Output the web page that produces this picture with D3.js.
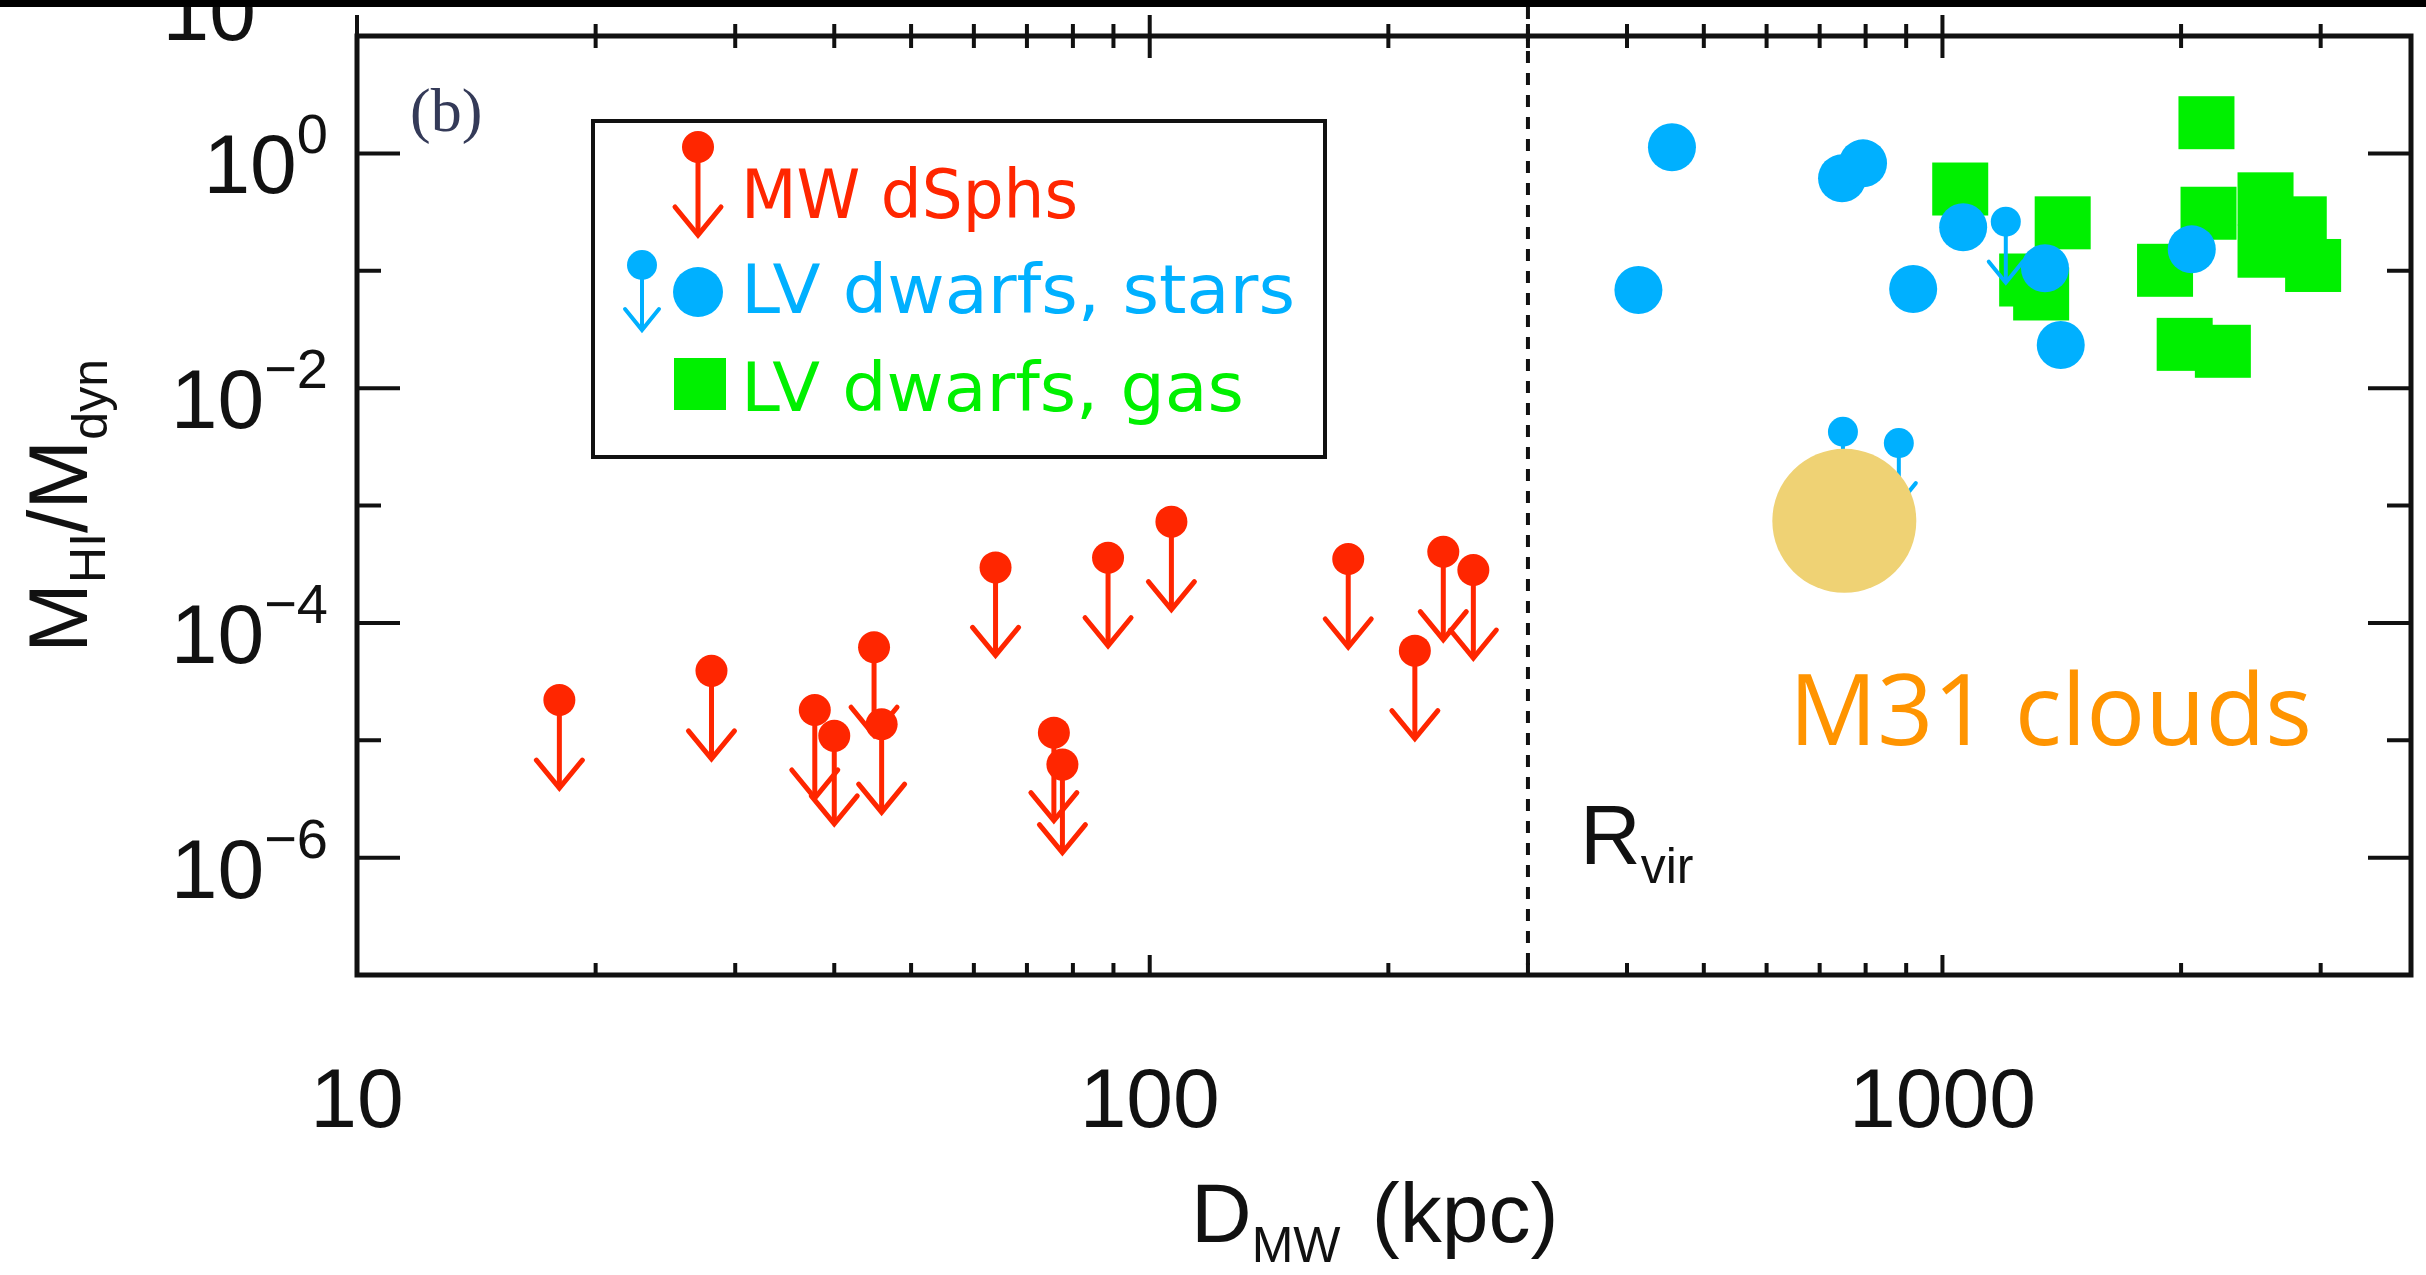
<!DOCTYPE html>
<html>
<head>
<meta charset="utf-8">
<script src="https://cdn.jsdelivr.net/npm/d3@7"></script>
<style>
  html, body { margin: 0; padding: 0; background: #fff; overflow: hidden; }
  svg { display: block; }
</style>
</head>
<body>
<svg id="chart"></svg>
<script>
// ---- data -------------------------------------------------------------
// Milky Way dwarf spheroidals: upper limits on M_HI / M_dyn
const mwDist  = [18, 28, 37.8, 40, 44.9, 45.9, 63.9, 75.7, 77.6, 88.6, 106.5, 178, 216, 234.6, 256];
const mwRatio = [2.2e-5, 3.9e-5, 1.81e-5, 1.09e-5, 6.2e-5, 1.37e-5, 2.97e-4, 1.16e-5, 6.2e-6,
                 3.59e-4, 7.28e-4, 3.5e-4, 5.8e-5, 4.04e-4, 2.82e-4];

// Local Volume dwarfs, stellar-kinematic masses (detections)
const lvStarDist  = [455.8, 413.5, 747, 794, 918.5, 1062, 1347, 1410, 2063];
const lvStarRatio = [1.127, 0.0686, 0.613, 0.823, 0.0699, 0.2346, 0.105, 0.0233, 0.1523];

// Local Volume dwarfs, stellar-kinematic masses (upper limits)
const lvLimDist  = [1202, 749, 881];
const lvLimRatio = [0.262, 4.25e-3, 3.4e-3];

// Local Volume dwarfs, gas-kinematic masses
const lvGasDist  = [1053, 1418, 1279, 1332, 1909, 2153, 2166, 2556, 2556, 2815, 2935, 2021, 2258];
const lvGasRatio = [0.497, 0.256, 0.0834, 0.0634, 0.1009, 1.825, 0.309, 0.410, 0.1467, 0.256, 0.1109, 0.0236, 0.0206];

// M31 clouds
const m31Dist = [752];
const m31Ratio = [7.4e-4];

// virial radius of the Milky Way (kpc)
const rVir = [300];

// axis ticks
const xMajor = [10, 100, 1000];
const xMajorLabels = ["10", "100", "1000"];
const xMinor = [20, 30, 40, 50, 60, 70, 80, 90, 200, 300, 400, 500, 600, 700, 800, 900, 2000, 3000];
const yMajor = [1, 1e-2, 1e-4, 1e-6];
const yMajorExp = ["0", "\u22122", "\u22124", "\u22126"];
const yMinor = [1e-1, 1e-3, 1e-5];

const legendLabels = ["MW dSphs", "LV dwarfs, stars", "LV dwarfs, gas"];

// ---- style -----------------------------------------------------------
const W = 2426, H = 1275;
const RED = "#ff2600", BLUE = "#00b0ff", GREEN = "#00f000", ORANGE = "#ff9400";
const NUM_FONT = "'Liberation Sans', Arial, Helvetica, sans-serif";
const LEG_FONT = "'DejaVu Sans', sans-serif";

const svg = d3.select("#chart").attr("width", W).attr("height", H)
  .attr("viewBox", `0 0 ${W} ${H}`);
svg.append("rect").attr("width", W).attr("height", H).attr("fill", "#fff");

const x = d3.scaleLog().domain([10, 3900]).range([357, 2411]);
const y = d3.scaleLog().domain([1e-7, 10]).range([975, 36]);
const [x0, x1] = x.range();
const [y0, y1] = y.range(); // y0 bottom, y1 top

// ---- marker helpers --------------------------------------------------
function limitMarker(g, cx, cy, opt) {
  const { r, len, hw, hh, sw, color } = opt;
  const tip = cy + len;
  g.append("line").attr("x1", cx).attr("x2", cx).attr("y1", cy).attr("y2", tip)
    .attr("stroke", color).attr("stroke-width", sw);
  g.append("path")
    .attr("d", `M${cx - hw},${tip - hh}L${cx},${tip}L${cx + hw},${tip - hh}`)
    .attr("fill", "none").attr("stroke", color).attr("stroke-width", sw)
    .attr("stroke-linejoin", "miter").attr("stroke-linecap", "round");
  g.append("circle").attr("cx", cx).attr("cy", cy).attr("r", r).attr("fill", color);
}
const redLimit  = { r: 16, len: 88, hw: 23, hh: 28, sw: 5, color: RED };
const blueLimit = { r: 15, len: 61, hw: 17, hh: 21, sw: 4, color: BLUE };

// ---- text of the panel above, cut by the frame edge ------------------
svg.append("text").attr("x", 256).attr("y", 40)
  .attr("text-anchor", "end").attr("font-family", NUM_FONT).attr("font-size", 84)
  .attr("fill", "#111").text("10");

// ---- R_vir line -------------------------------------------------------
svg.selectAll("line.rvir").data(rVir).join("line").attr("class", "rvir")
  .attr("x1", d => x(d)).attr("x2", d => x(d))
  .attr("y1", 7).attr("y2", y0)
  .attr("stroke", "#111").attr("stroke-width", 4).attr("stroke-dasharray", "12 10");

// ---- data marks --------------------------------------------------------
const marks = svg.append("g");

// gas squares first, stellar points on top
const SQ_W = 56, SQ_H = 53;
marks.selectAll("rect.gas").data(d3.zip(lvGasDist, lvGasRatio)).join("rect").attr("class", "gas")
  .attr("x", d => x(d[0]) - SQ_W / 2).attr("y", d => y(d[1]) - SQ_H / 2)
  .attr("width", SQ_W).attr("height", SQ_H).attr("fill", GREEN);

d3.zip(lvLimDist, lvLimRatio).forEach(d => limitMarker(marks.append("g"), x(d[0]), y(d[1]), blueLimit));

marks.selectAll("circle.star").data(d3.zip(lvStarDist, lvStarRatio)).join("circle").attr("class", "star")
  .attr("cx", d => x(d[0])).attr("cy", d => y(d[1])).attr("r", 24).attr("fill", BLUE);

d3.zip(mwDist, mwRatio).forEach(d => limitMarker(marks.append("g"), x(d[0]), y(d[1]), redLimit));

// M31 clouds
marks.selectAll("circle.m31").data(d3.zip(m31Dist, m31Ratio)).join("circle").attr("class", "m31")
  .attr("cx", d => x(d[0])).attr("cy", d => y(d[1])).attr("r", 72)
  .attr("fill", "#efd274");
svg.append("text").attr("x", 1789).attr("y", 745)
  .attr("font-family", "'Open Sans', 'Noto Sans', sans-serif").attr("font-size", 98)
  .attr("fill", ORANGE).text("M31 clouds");

// ---- frame and ticks --------------------------------------------------
const axes = svg.append("g").attr("stroke", "#111").attr("fill", "none");
axes.append("rect").attr("x", x0).attr("y", y1).attr("width", x1 - x0).attr("height", y0 - y1)
  .attr("stroke-width", 5);

const tickW = 4;
// bottom ticks (pointing up)
axes.selectAll("line.xb").data(xMajor.concat(xMinor)).join("line").attr("class", "xb")
  .attr("x1", d => x(d)).attr("x2", d => x(d))
  .attr("y1", y0).attr("y2", d => y0 - (xMajor.includes(d) ? 20 : 12))
  .attr("stroke-width", tickW);
// top ticks (shared with the panel above, so they cross the line)
axes.selectAll("line.xt").data(xMajor.concat(xMinor)).join("line").attr("class", "xt")
  .attr("x1", d => x(d)).attr("x2", d => x(d))
  .attr("y1", d => y1 - (xMajor.includes(d) ? 21 : 12))
  .attr("y2", d => y1 + (xMajor.includes(d) ? 22 : 12))
  .attr("stroke-width", tickW);
// left and right ticks
[[x0, 1], [x1, -1]].forEach(([xe, dir]) => {
  axes.selectAll(null).data(yMajor.concat(yMinor)).join("line")
    .attr("x1", xe).attr("x2", d => xe + dir * (yMajor.includes(d) ? 43 : 24))
    .attr("y1", d => y(d)).attr("y2", d => y(d))
    .attr("stroke-width", tickW);
});

// ---- tick labels -------------------------------------------------------
svg.selectAll("text.xl").data(xMajor).join("text").attr("class", "xl")
  .attr("x", d => x(d)).attr("y", 1127).attr("text-anchor", "middle")
  .attr("font-family", NUM_FONT).attr("font-size", 84).attr("fill", "#111")
  .text((d, i) => xMajorLabels[i]);

const yl = svg.selectAll("text.yl").data(yMajor).join("text").attr("class", "yl")
  .attr("x", 328).attr("y", d => y(d) + 40).attr("text-anchor", "end")
  .attr("font-family", NUM_FONT).attr("font-size", 84).attr("fill", "#111");
yl.append("tspan").text("10");
yl.append("tspan").attr("dy", -40).attr("font-size", 56).text((d, i) => yMajorExp[i]);

// ---- axis titles -------------------------------------------------------
const yt = svg.append("text").attr("transform", "translate(87,506) rotate(-90)")
  .attr("text-anchor", "middle").attr("font-family", NUM_FONT).attr("font-size", 84).attr("fill", "#111");
yt.append("tspan").text("M");
yt.append("tspan").attr("dy", 18).attr("font-size", 50).text("HI");
yt.append("tspan").attr("dy", -18).text("/M");
yt.append("tspan").attr("dy", 20).attr("font-size", 50).text("dyn");

const xt = svg.append("text").attr("x", 1191).attr("y", 1242)
  .attr("font-family", NUM_FONT).attr("font-size", 84).attr("fill", "#111");
xt.append("tspan").text("D");
xt.append("tspan").attr("dy", 20).attr("font-size", 50).text("MW");
xt.append("tspan").attr("dy", -20).attr("dx", 8).text(" (kpc)");

// R_vir annotation
const rv = svg.append("text").attr("x", 1580).attr("y", 864)
  .attr("font-family", NUM_FONT).attr("font-size", 84).attr("fill", "#111");
rv.append("tspan").text("R");
rv.append("tspan").attr("dy", 19).attr("font-size", 50).text("vir");

// panel tag
svg.append("text").attr("x", 410).attr("y", 131)
  .attr("font-family", "'Liberation Serif', 'Times New Roman', serif").attr("font-size", 62)
  .attr("fill", "#343a58").text("(b)");

// ---- legend ------------------------------------------------------------
const leg = svg.append("g");
leg.append("rect").attr("x", 593).attr("y", 121).attr("width", 732).attr("height", 336)
  .attr("fill", "#fff").attr("stroke", "#111").attr("stroke-width", 4);
limitMarker(leg.append("g"), 698, 147, redLimit);
limitMarker(leg.append("g"), 642, 265, { ...blueLimit, len: 65 });
leg.append("circle").attr("cx", 698).attr("cy", 292).attr("r", 25).attr("fill", BLUE);
leg.append("rect").attr("x", 674).attr("y", 358).attr("width", 52).attr("height", 52).attr("fill", GREEN);
const legColors = [RED, BLUE, GREEN];
const legBase = [218, 313, 411];
const legWidth = [337, 554, 503];
leg.selectAll("text").data(legendLabels).join("text")
  .attr("x", 741).attr("y", (d, i) => legBase[i])
  .attr("font-family", LEG_FONT).attr("font-size", 68)
  .attr("textLength", (d, i) => legWidth[i]).attr("lengthAdjust", "spacingAndGlyphs")
  .attr("fill", (d, i) => legColors[i]).text(d => d);

// ---- top strip -----------------------------------------------------------
svg.append("rect").attr("x", 0).attr("y", 0).attr("width", W).attr("height", 7).attr("fill", "#000");
</script>
</body>
</html>
